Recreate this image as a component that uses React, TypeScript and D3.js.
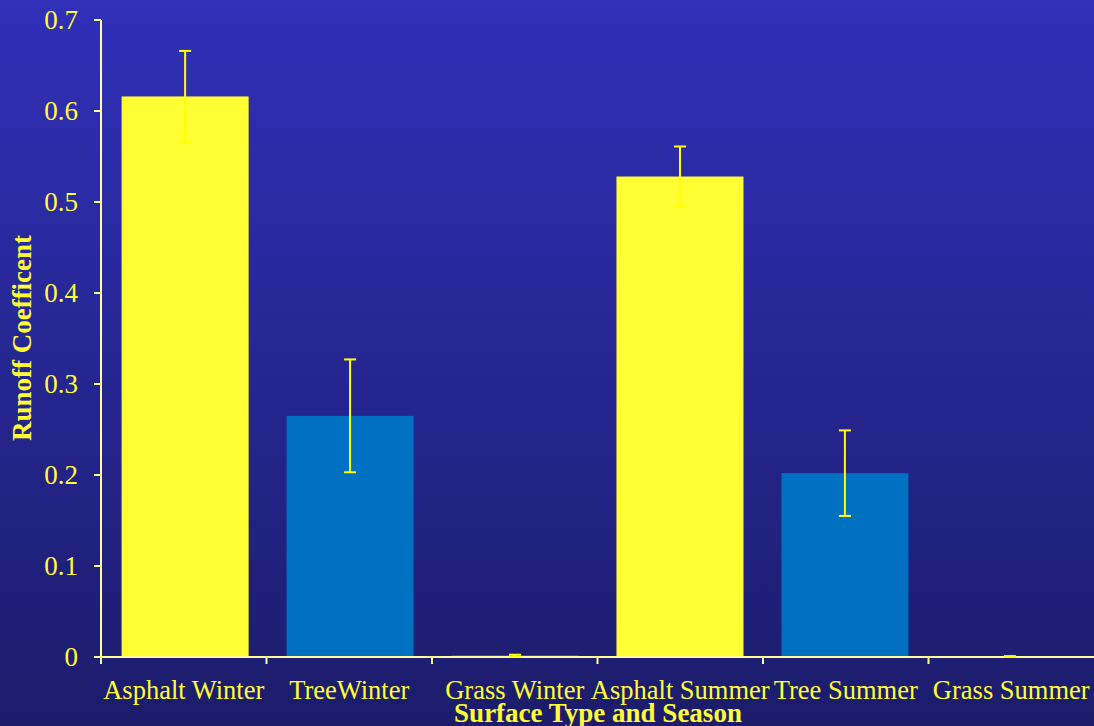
import React from "react";
import * as d3 from "d3";

const categories = ["Asphalt Winter", "TreeWinter", "Grass Winter", "Asphalt Summer", "Tree Summer", "Grass Summer"];
const values = [0.616, 0.265, 0.0015, 0.528, 0.202, 0];
const errors = [0.05, 0.062, 0.001, 0.033, 0.047, 0.001];
const barColors = ["#ffff33", "#0070c0", "#33cc33", "#ffff33", "#0070c0", "#0070c0"];
const yTicks = [0, 0.1, 0.2, 0.3, 0.4, 0.5, 0.6, 0.7];

const W = 1094, H = 726;
const left = 101, right = 1094, top = 20, bottom = 657;

export default function App() {
  const x = d3.scaleBand<string>().domain(categories).range([left, right]).paddingInner(0.23).paddingOuter(0.125);
  const xc = d3.scaleBand<string>().domain(categories).range([left, right]);
  const y = d3.scaleLinear().domain([0, 0.7]).range([bottom, top]);
  const font = "'Liberation Serif', 'Times New Roman', serif";
  const axisColor = "#ffff99";
  return (
    <svg width={W} height={H} style={{ position: "absolute", left: 0, top: 0 }} fontFamily={font}>
      <defs>
        <linearGradient id="bg" x1="0" y1="0" x2="0" y2="1">
          <stop offset="0" stopColor="#3030b9" />
          <stop offset="1" stopColor="#1c1c6b" />
        </linearGradient>
      </defs>
      <rect x={0} y={0} width={W} height={H} fill="url(#bg)" />
      {categories.map((c, i) => {
        const x0 = x(c)!;
        const bw = x.bandwidth();
        const v = values[i];
        const h = bottom - y(v);
        return (
          <g key={c}>
            {h > 0 && <rect x={x0} y={y(v)} width={bw} height={Math.max(h, 1)} fill={barColors[i]} />}
          </g>
        );
      })}
      {/* axes */}
      <line x1={left} x2={left} y1={top} y2={bottom} stroke={axisColor} strokeWidth={2} />
      <line x1={left - 7} x2={right} y1={bottom} y2={bottom} stroke={axisColor} strokeWidth={2} />
      {yTicks.map((t) => (
        <g key={t}>
          <line x1={left - 7} x2={left} y1={y(t)} y2={y(t)} stroke={axisColor} strokeWidth={2} />
          <text x={left - 23} y={y(t)} dy="0.35em" textAnchor="end" fontSize={27} fill="#ffff33">
            {t === 0 ? "0" : t.toFixed(1)}
          </text>
        </g>
      ))}
      {categories.map((c, i) => (
        <line key={"t" + i} x1={xc(c)!} x2={xc(c)!} y1={bottom} y2={bottom + 7} stroke={axisColor} strokeWidth={2} />
      ))}
      {/* error bars */}
      {categories.map((c, i) => {
        const cx = x(c)! + x.bandwidth() / 2;
        const v = values[i];
        const e = errors[i];
        const y1 = y(v + e), y2 = y(Math.max(0, v - e));
        return (
          <g key={"e" + i} stroke="#ffff00" strokeWidth={2}>
            <line x1={cx} x2={cx} y1={y1} y2={y2} />
            <line x1={cx - 6} x2={cx + 6} y1={y1} y2={y1} />
            <line x1={cx - 6} x2={cx + 6} y1={y2} y2={y2} />
          </g>
        );
      })}
      {categories.map((c) => (
        <text key={"l" + c} x={xc(c)! + xc.bandwidth() / 2} y={699} textAnchor="middle" fontSize={26.5} fill="#ffff33">
          {c}
        </text>
      ))}
      <text x={598} y={722} textAnchor="middle" fontSize={27} fontWeight="bold" fill="#ffff33">
        Surface Type and Season
      </text>
      <text transform="translate(31,338) rotate(-90)" textAnchor="middle" fontSize={27} fontWeight="bold" fill="#ffff33">
        Runoff Coefficent
      </text>
    </svg>
  );
}
